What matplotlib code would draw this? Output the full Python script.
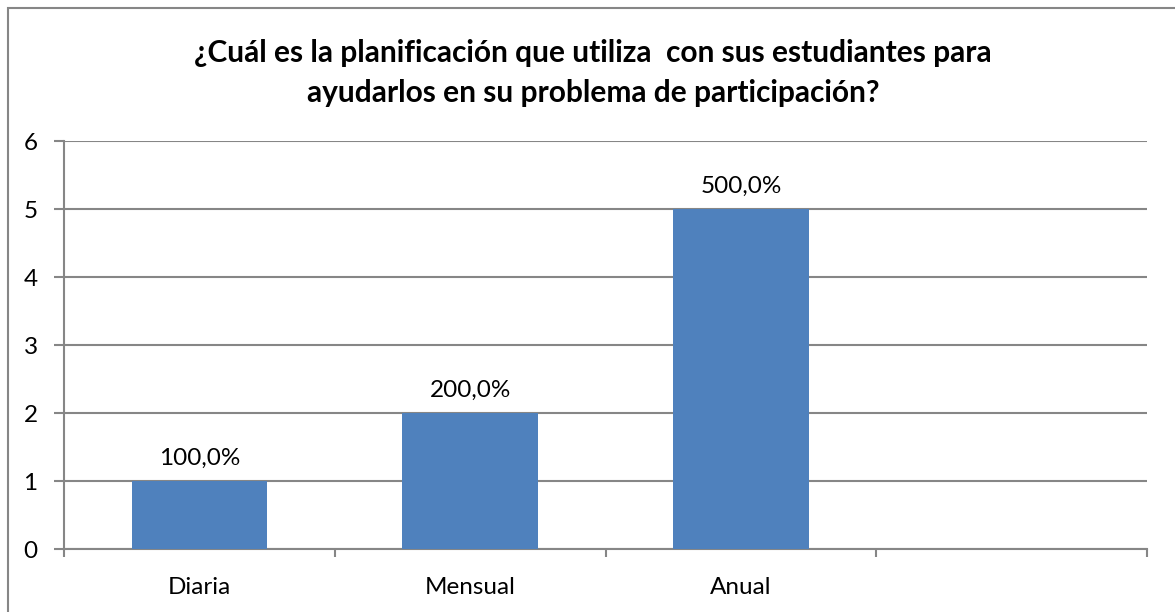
import numpy as np
import matplotlib.pyplot as plt
from matplotlib.patches import Rectangle

categories = ['Diaria', 'Mensual', 'Anual', '']
values = [1, 2, 5, np.nan]
labels = ['100,0%', '200,0%', '500,0%', '']
yticks = [0, 1, 2, 3, 4, 5, 6]
title = '¿Cuál es la planificación que utiliza  con sus estudiantes para\nayudarlos en su problema de participación?'

plt.rcParams['font.family'] = ['Lato', 'DejaVu Sans']
grey = '#868686'

fig = plt.figure(figsize=(11.75, 6.12), dpi=100)
fig.patches.append(Rectangle((8 / 1175, -0.1), 1.2, (612 - 8) / 612 + 0.1,
                             transform=fig.transFigure, fill=False,
                             edgecolor=grey, linewidth=1.5))
ax = fig.add_axes([64 / 1175, 63 / 612, 1083 / 1175, 408 / 612])

x = np.arange(len(categories))
ax.bar(x, values, width=0.5, color='#4F81BD', zorder=3)
for xi, v, lab in zip(x, values, labels):
    if not np.isnan(v):
        ax.text(xi, v + 0.18, lab, ha='center', va='bottom', fontsize=17.5)

ax.set_xlim(-0.5, len(categories) - 0.5)
ax.set_ylim(0, 6)
ax.set_yticks(yticks)
ax.set_yticklabels([str(t) for t in yticks], fontsize=17.5)
ax.set_xticks(x)
ax.set_xticklabels(categories, fontsize=17.5)
ax.set_xticks(np.arange(len(categories) + 1) - 0.5, minor=True)
ax.tick_params(axis='x', which='major', length=0, pad=20)
ax.tick_params(axis='x', which='minor', length=6, color=grey, width=1.5)
ax.tick_params(axis='y', length=7, color=grey, width=1.5, pad=12)
ax.grid(axis='y', color=grey, linewidth=1.5, zorder=0)
for s in ['top', 'right']:
    ax.spines[s].set_visible(False)
for s in ['left', 'bottom']:
    ax.spines[s].set_color(grey)
    ax.spines[s].set_linewidth(1.5)

fig.text(593 / 1175, 1 - 73 / 612, title, ha='center', va='center',
         fontsize=21.5, fontweight='bold', linespacing=1.5)

fig.savefig('out.png', dpi=100)
